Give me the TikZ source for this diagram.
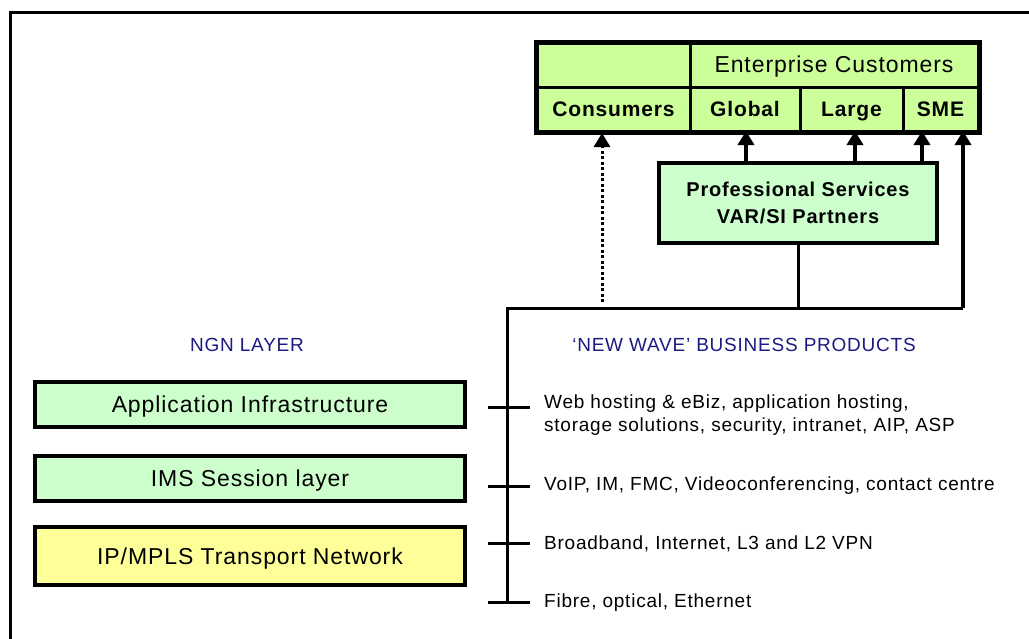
\documentclass[tikz,border=0pt]{standalone}
\usepackage{fontspec}
\setmainfont{Liberation Sans}[LetterSpace=4]
\usetikzlibrary{arrows.meta}
\definecolor{cellgreen}{HTML}{CCFF99}
\definecolor{boxgreen}{HTML}{CCFFCC}
\definecolor{boxyellow}{HTML}{FFFF99}
\definecolor{navy}{HTML}{1A1A80}
\tikzset{
  cell/.style={draw=black, line width=3pt, fill=cellgreen, minimum height=44pt, inner sep=0pt, text height=17pt, text depth=2pt, font=\fontsize{21}{24}\selectfont\bfseries},
  layerbox/.style={draw=black, line width=4pt, minimum width=430pt, inner sep=0pt, text height=18pt, text depth=2pt, font=\fontsize{23}{26}\selectfont},
  psbox/.style={draw=black, line width=3.5pt, fill=boxgreen, minimum width=278pt, minimum height=80pt, inner sep=0pt, align=center, font=\fontsize{20}{27}\selectfont\bfseries},
  head/.style={text=navy, inner sep=0pt, font=\fontsize{19}{22}\selectfont},
  prod/.style={anchor=west, inner sep=0pt, align=left, font=\fontsize{19}{23}\selectfont},
  arr/.style={line width=3.5pt, -{Triangle[width=16pt,length=14pt]}},
  dotarr/.style={line width=3pt, dash pattern=on 3pt off 2.5pt, -{Triangle[width=16pt,length=14pt]}},
  trunk/.style={line width=3pt},
  tick/.style={line width=3pt},
}
\begin{document}
\begin{tikzpicture}[x=1pt,y=-1pt]
\useasboundingbox (0,0) rectangle (1029,638);
% frame
\draw[line width=3pt] (10,640) -- (10,12) -- (1031,12);

% top table
\node[cell, minimum width=153pt] (blank) at (613.5,65) {};
\node[cell, minimum width=288pt, font=\fontsize{23}{26}\selectfont] (ent) at (834,65) {Enterprise Customers};
\node[cell, minimum width=153pt] (cons) at (613.5,109) {Consumers};
\node[cell, minimum width=110pt] (global) at (745,109) {Global};
\node[cell, minimum width=103pt] (large) at (851.5,109) {Large};
\node[cell, minimum width=75pt] (sme) at (940.5,109) {SME};
\draw[line width=4pt] (blank.north west) rectangle (sme.south east);

% professional services
\node[psbox] (ps) at (798,203) {Professional Services\\VAR/SI Partners};

% trunk coordinates
\coordinate (jtop) at (507,308);
\coordinate (jbot) at (507,602);
\coordinate (jright) at (963,308);
\coordinate (jps) at (798,308);
\coordinate (jdot) at (602,302);

\draw[trunk] (jbot) -- (jtop) -- (jright);
\draw[arr] (jright) -- (963,131);
\draw[trunk] (ps.south -| jps) -- (jps);
\draw[dotarr] (jdot) -- (602,133);
\draw[arr] (746,163) -- (746,131);
\draw[arr] (855,163) -- (855,131);
\draw[arr] (922,163) -- (922,131);

% headers
\node[head] (ngn) at (247,345) {NGN LAYER};
\node[head] (nwave) at (744,345) {‘NEW WAVE’ BUSINESS PRODUCTS};

% layer boxes
\node[layerbox, fill=boxgreen, minimum height=45pt] (app) at (250,404.5) {Application Infrastructure};
\node[layerbox, fill=boxgreen, minimum height=45pt] (ims) at (250,478.5) {IMS Session layer};
\node[layerbox, fill=boxyellow, minimum height=58pt] (ip) at (250,556) {IP/MPLS Transport Network};

% ticks
\coordinate (t1) at (507,407);
\coordinate (t2) at (507,486);
\coordinate (t3) at (507,543);
\coordinate (t4) at (507,602);
\foreach \t in {t1,t2,t3,t4}{
  \draw[tick] ([xshift=-19pt]\t) -- ([xshift=23pt]\t);
}

% product texts
\node[prod] (p1) at (544,415.5) {Web hosting \& eBiz, application hosting,\\storage solutions, security, intranet, AIP, ASP};
\node[prod] (p2) at (544,486) {VoIP, IM, FMC, Videoconferencing, contact centre};
\node[prod] (p3) at (544,544) {Broadband, Internet, L3 and L2 VPN};
\node[prod] (p4) at (544,603) {Fibre, optical, Ethernet};
\end{tikzpicture}
\end{document}
